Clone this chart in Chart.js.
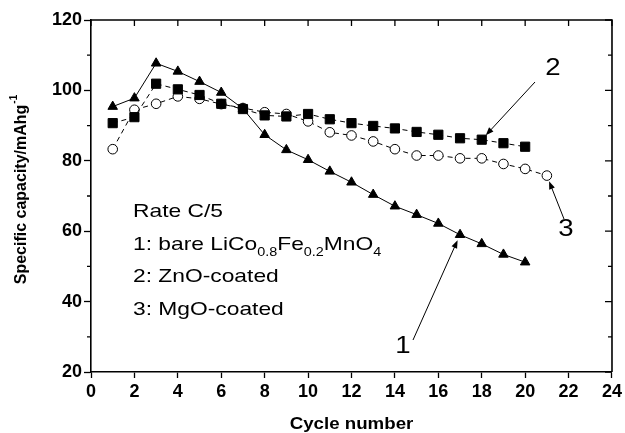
<!DOCTYPE html>
<html>
<head>
<meta charset="utf-8">
<script src="https://cdn.jsdelivr.net/npm/chart.js@4.4.1/dist/chart.umd.min.js"></script>
<style>
  html, body { margin: 0; padding: 0; background: #fff; }
  #wrap { width: 625px; height: 433px; }
</style>
</head>
<body>
<div id="wrap"><canvas id="chart" width="625" height="433"></canvas></div>
<script>
// --- Data ---
const cycles = [1, 2, 3, 4, 5, 6, 7, 8, 9, 10, 11, 12, 13, 14, 15, 16, 17, 18, 19, 20];
const cyclesMgO = [1, 2, 3, 4, 5, 6, 7, 8, 9, 10, 11, 12, 13, 14, 15, 16, 17, 18, 19, 20, 21];

const bareValues = [95.4, 97.8, 107.7, 105.4, 102.5, 99.4, 94.8, 87.4, 83.1, 80.3,
                    77.0, 73.9, 70.4, 67.1, 64.7, 62.2, 59.0, 56.4, 53.4, 51.2];
const znoValues  = [90.7, 92.4, 101.9, 100.3, 98.7, 96.2, 94.7, 92.9, 92.6, 93.3,
                    91.8, 90.7, 89.9, 89.2, 88.2, 87.4, 86.4, 86.0, 85.0, 84.0];
const mgoValues  = [83.3, 94.5, 96.2, 98.3, 97.6, 96.1, 95.0, 93.8, 93.3, 91.2,
                    88.1, 87.2, 85.5, 83.3, 81.5, 81.5, 80.7, 80.7, 79.1, 77.7, 75.8];

const xTicks = [0, 2, 4, 6, 8, 10, 12, 14, 16, 18, 20, 22, 24];
const yTicks = [20, 40, 60, 80, 100, 120];
const yMinorTicks = [30, 50, 70, 90, 110];

const legendLines = ['Rate C/5', '1: bare LiCo0.8Fe0.2MnO4', '2: ZnO-coated', '3: MgO-coated'];

// series label "n" with arrow pointing to one marker of that series
const callouts = [
  { text: '1', series: bareValues, xs: cycles, idx: 16, lx: 403, ly: 347, ax: 413, ay: 340 },
  { text: '2', series: znoValues, xs: cycles, idx: 17, lx: 553, ly: 69, ax: 535, ay: 82 },
  { text: '3', series: mgoValues, xs: cyclesMgO, idx: 20, lx: 566, ly: 230, ax: 564, ay: 219 }
];

const toPoints = (xs, ys) => xs.map((x, i) => ({ x: x, y: ys[i] }));

const SANS = '"Liberation Sans", Arial, Helvetica, sans-serif';
const STRETCH = 1.2; // the original figure's lettering is a bit wider than Arial

function drawArrow(ctx, x0, y0, x1, y1) {
  const ang = Math.atan2(y1 - y0, x1 - x0);
  const head = 8, half = 3;
  ctx.beginPath();
  ctx.moveTo(x0, y0);
  ctx.lineTo(x1 - Math.cos(ang) * head * 0.7, y1 - Math.sin(ang) * head * 0.7);
  ctx.stroke();
  ctx.beginPath();
  ctx.moveTo(x1, y1);
  ctx.lineTo(x1 - Math.cos(ang) * head - Math.sin(ang) * half, y1 - Math.sin(ang) * head + Math.cos(ang) * half);
  ctx.lineTo(x1 - Math.cos(ang) * head + Math.sin(ang) * half, y1 - Math.sin(ang) * head - Math.cos(ang) * half);
  ctx.closePath();
  ctx.fill();
}

function wideText(ctx, text, x, y, font, sx) {
  ctx.save();
  ctx.translate(x, y);
  ctx.scale(sx, 1);
  ctx.font = font;
  ctx.fillText(text, 0, 0);
  ctx.restore();
}

// draws "LiCo0.8Fe0.2MnO4" style text with numeric subscripts
function drawFormula(ctx, parts, x, y, size) {
  ctx.save();
  ctx.translate(x, y);
  ctx.scale(STRETCH, 1);
  let cx = 0;
  parts.forEach(p => {
    if (p.sub) {
      ctx.font = `${Math.round(size * 0.65)}px ${SANS}`;
      ctx.fillText(p.t, cx, size * 0.3);
    } else {
      ctx.font = `${size}px ${SANS}`;
      ctx.fillText(p.t, cx, 0);
    }
    cx += ctx.measureText(p.t).width;
  });
  ctx.restore();
}

const framePlugin = {
  id: 'frame',
  afterDraw(chart) {
    const ctx = chart.ctx;
    const { left, right, top, bottom } = chart.chartArea;
    const xs = chart.scales.x, ys = chart.scales.y;
    ctx.save();
    ctx.strokeStyle = '#000';
    ctx.fillStyle = '#000';

    // box: top and right sides
    ctx.lineWidth = 1.6;
    ctx.beginPath();
    ctx.moveTo(left, top);
    ctx.lineTo(right, top);
    ctx.lineTo(right, bottom);
    ctx.stroke();

    // mirrored inward ticks and minor ticks
    ctx.lineWidth = 1.3;
    ctx.beginPath();
    yTicks.forEach(v => {
      const py = ys.getPixelForValue(v);
      ctx.moveTo(right, py); ctx.lineTo(right - 7, py);
    });
    yMinorTicks.forEach(v => {
      const py = ys.getPixelForValue(v);
      ctx.moveTo(right, py); ctx.lineTo(right - 4, py);
      ctx.moveTo(left, py); ctx.lineTo(left - 4, py);
    });
    xTicks.forEach(v => {
      const px = xs.getPixelForValue(v);
      ctx.moveTo(px, top); ctx.lineTo(px, top + 6);
    });
    ctx.stroke();

    // axis titles
    ctx.textAlign = 'center';
    ctx.textBaseline = 'middle';
    wideText(ctx, 'Cycle number', (left + right) / 2, 424, `bold 17px ${SANS}`, 1.1);

    ctx.save();
    ctx.translate(22, 190);
    ctx.rotate(-Math.PI / 2);
    ctx.font = `bold 16px ${SANS}`;
    const main = 'Specific capacity/mAhg';
    const mw = ctx.measureText(main).width;
    ctx.font = `bold 10px ${SANS}`;
    const sw = ctx.measureText('-1').width;
    const start = -(mw + sw) / 2;
    ctx.textAlign = 'left';
    ctx.font = `bold 16px ${SANS}`;
    ctx.fillText(main, start, 0);
    ctx.font = `bold 10px ${SANS}`;
    ctx.fillText('-1', start + mw + 1, -8);
    ctx.restore();

    // legend text block
    ctx.textAlign = 'left';
    ctx.textBaseline = 'alphabetic';
    const size = 19;
    const font = `${size}px ${SANS}`;
    const baseY = [217, 250, 282, 315];
    wideText(ctx, legendLines[0], 133, baseY[0], font, STRETCH);
    drawFormula(ctx, [
      { t: '1: bare LiCo' }, { t: '0.8', sub: true }, { t: 'Fe' }, { t: '0.2', sub: true },
      { t: 'MnO' }, { t: '4', sub: true }
    ], 133, baseY[1], size);
    wideText(ctx, legendLines[2], 133, baseY[2], font, STRETCH);
    wideText(ctx, legendLines[3], 133, baseY[3], font, STRETCH);

    // callouts
    ctx.lineWidth = 1;
    callouts.forEach(c => {
      ctx.textAlign = 'center';
      ctx.textBaseline = 'middle';
      wideText(ctx, c.text, c.lx, c.ly, `23px ${SANS}`, STRETCH);
      const tx = xs.getPixelForValue(c.xs[c.idx]);
      const ty = ys.getPixelForValue(c.series[c.idx]);
      const ang = Math.atan2(ty - c.ay, tx - c.ax);
      drawArrow(ctx, c.ax, c.ay, tx - Math.cos(ang) * 6, ty - Math.sin(ang) * 6);
    });
    ctx.restore();
  }
};

new Chart(document.getElementById('chart'), {
  type: 'line',
  data: {
    datasets: [
      {
        label: '1: bare LiCo0.8Fe0.2MnO4',
        data: toPoints(cycles, bareValues),
        borderColor: '#000',
        borderWidth: 1,
        backgroundColor: '#000',
        pointStyle: 'triangle',
        pointRadius: 5.5,
        pointBorderWidth: 1,
        pointBackgroundColor: '#000',
        pointBorderColor: '#000',
        tension: 0
      },
      {
        label: '2: ZnO-coated',
        data: toPoints(cycles, znoValues),
        borderColor: '#000',
        borderWidth: 1,
        borderDash: [5, 4],
        pointStyle: 'rect',
        pointRadius: 6.5,
        pointBorderWidth: 1,
        pointBackgroundColor: '#000',
        pointBorderColor: '#000',
        tension: 0
      },
      {
        label: '3: MgO-coated',
        data: toPoints(cyclesMgO, mgoValues),
        borderColor: '#000',
        borderWidth: 1,
        borderDash: [5, 4],
        pointStyle: 'circle',
        pointRadius: 4.8,
        pointBorderWidth: 1,
        pointBackgroundColor: '#fff',
        pointBorderColor: '#000',
        tension: 0
      }
    ]
  },
  options: {
    responsive: false,
    devicePixelRatio: 1,
    animation: false,
    layout: { padding: { left: 0, right: 12, top: 20, bottom: 0 } },
    plugins: {
      legend: { display: false },
      tooltip: { enabled: false },
      title: { display: false }
    },
    scales: {
      x: {
        type: 'linear',
        min: 0,
        max: 24,
        afterBuildTicks: s => { s.ticks = xTicks.map(v => ({ value: v })); },
        afterFit: s => { s.height = 61; },
        border: { display: true, color: '#000', width: 1.6 },
        grid: { display: true, drawOnChartArea: false, drawTicks: true, tickLength: 6, tickColor: '#000', tickWidth: 1.3 },
        ticks: { color: '#000', padding: 3, maxRotation: 0, font: { family: SANS, size: 18, weight: 'bold' } }
      },
      y: {
        type: 'linear',
        min: 20,
        max: 120,
        afterBuildTicks: s => { s.ticks = yTicks.map(v => ({ value: v })); },
        afterFit: s => { s.width = 91; },
        border: { display: true, color: '#000', width: 1.6 },
        grid: { display: true, drawOnChartArea: false, drawTicks: true, tickLength: 7, tickColor: '#000', tickWidth: 1.3 },
        ticks: { color: '#000', padding: 2, font: { family: SANS, size: 18, weight: 'bold' } }
      }
    }
  },
  plugins: [framePlugin]
});
</script>
</body>
</html>
